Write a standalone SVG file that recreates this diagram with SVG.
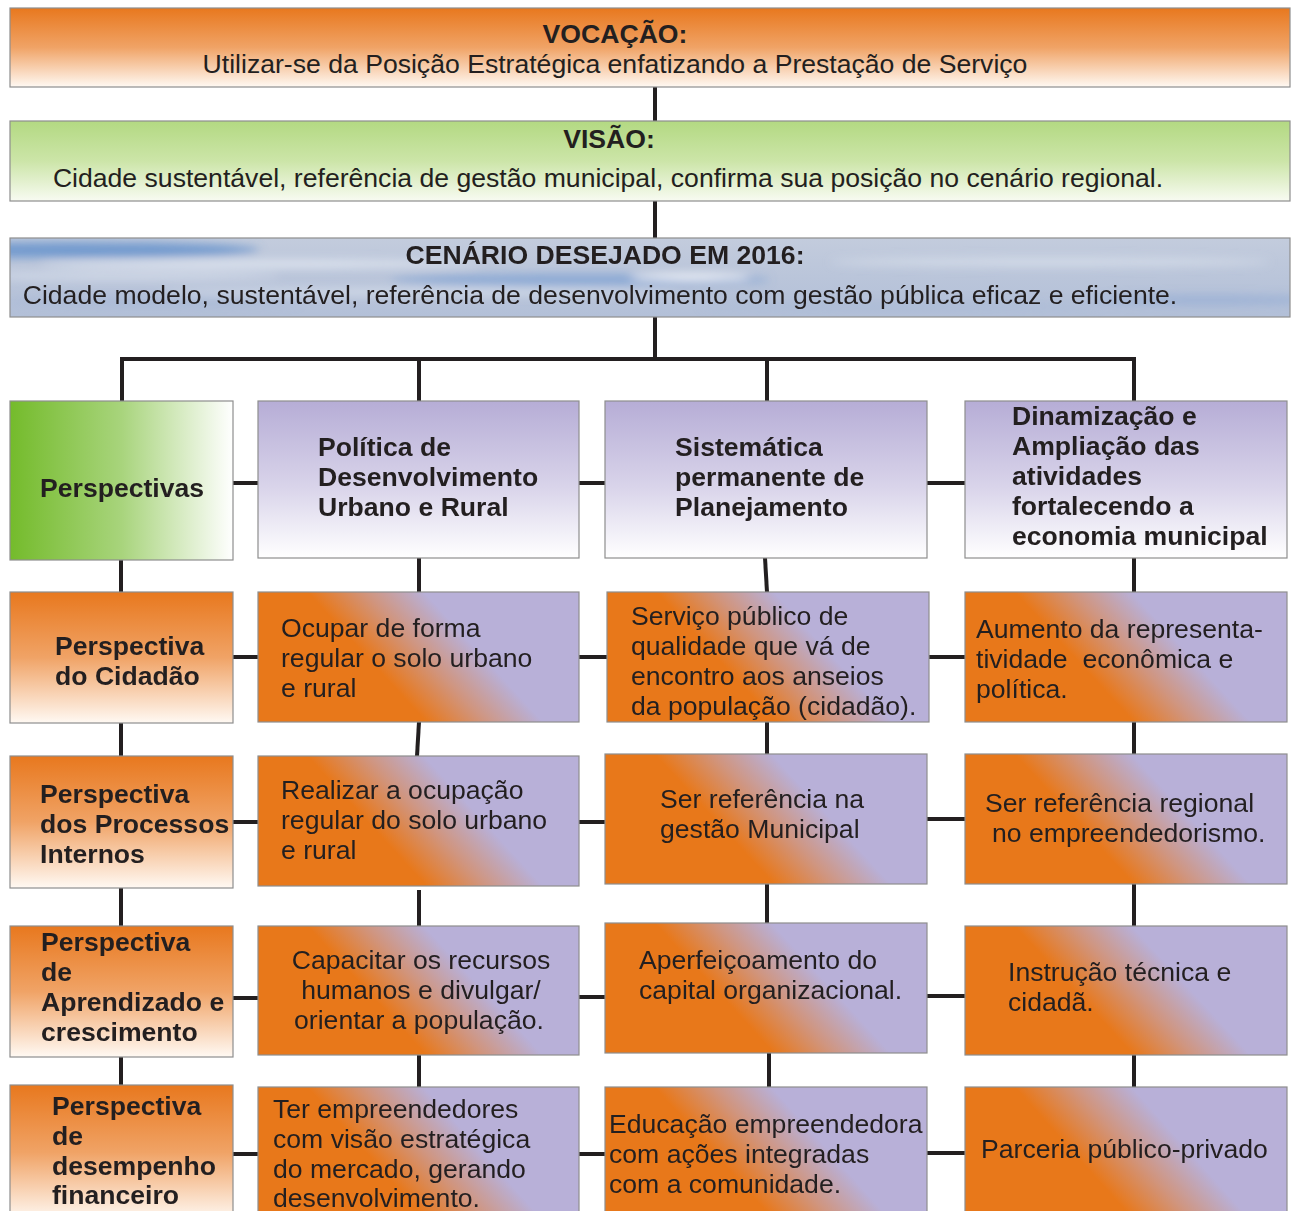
<svg xmlns="http://www.w3.org/2000/svg" width="1295" height="1211" viewBox="0 0 1295 1211">
<defs>
<style>
.t{font-family:"Liberation Sans",Arial,sans-serif;font-size:26.6px;fill:#231F20}
.b{font-weight:bold}
.c{text-anchor:middle}
.box{stroke:#8E8E8E;stroke-width:1.2}
.con{stroke:#231F20;stroke-width:4;fill:none}
</style>
<linearGradient id="gOrangeV" x1="0" y1="0" x2="0" y2="1">
<stop offset="0" stop-color="#E8781E"/>
<stop offset="0.5" stop-color="#F0A366"/>
<stop offset="1" stop-color="#FFF9F3"/>
</linearGradient>
<linearGradient id="gGreenV" x1="0" y1="0" x2="0" y2="1">
<stop offset="0" stop-color="#B3D982"/>
<stop offset="0.5" stop-color="#CCE5A8"/>
<stop offset="1" stop-color="#F8FBF2"/>
</linearGradient>
<linearGradient id="gGreenH" x1="0" y1="0" x2="1" y2="0">
<stop offset="0" stop-color="#74BB2B"/>
<stop offset="0.5" stop-color="#A8D47C"/>
<stop offset="1" stop-color="#FFFFFF"/>
</linearGradient>
<linearGradient id="gPurpleV" x1="0" y1="0" x2="0" y2="1">
<stop offset="0" stop-color="#B6ADD6"/>
<stop offset="0.55" stop-color="#D9D4EA"/>
<stop offset="1" stop-color="#FFFFFF"/>
</linearGradient>
<linearGradient id="gDiag" x1="0" y1="0.69" x2="1" y2="0.32">
<stop offset="0" stop-color="#E8781A"/>
<stop offset="0.36" stop-color="#E8781A"/>
<stop offset="0.52" stop-color="#D0957F"/>
<stop offset="0.68" stop-color="#B8B0D8"/>
<stop offset="1" stop-color="#B8B0D8"/>
</linearGradient>
<linearGradient id="gSky" x1="0" y1="0" x2="0" y2="1">
<stop offset="0" stop-color="#C3CCDD"/>
<stop offset="0.5" stop-color="#BAC5DA"/>
<stop offset="1" stop-color="#B3C0D8"/>
</linearGradient>
<filter id="blur" x="-50%" y="-50%" width="200%" height="200%">
<feGaussianBlur stdDeviation="5"/>
</filter>
<clipPath id="skyClip"><rect x="10" y="238" width="1280" height="79"/></clipPath>
</defs>

<g id="connectors">
<line class="con" x1="655" y1="87" x2="655" y2="121"/>
<line class="con" x1="655" y1="201" x2="655" y2="238"/>
<line class="con" x1="655" y1="317" x2="655" y2="359"/>
<line class="con" x1="120" y1="359" x2="1136" y2="359"/>
<line class="con" x1="122" y1="359" x2="122" y2="401"/>
<line class="con" x1="419" y1="359" x2="419" y2="401"/>
<line class="con" x1="767" y1="359" x2="767" y2="401"/>
<line class="con" x1="1134" y1="359" x2="1134" y2="401"/>
<line class="con" x1="233" y1="483" x2="258" y2="483"/>
<line class="con" x1="579" y1="483" x2="605" y2="483"/>
<line class="con" x1="927" y1="483" x2="965" y2="483"/>
<line class="con" x1="121" y1="560" x2="121" y2="592"/>
<line class="con" x1="419" y1="558" x2="419" y2="592"/>
<line class="con" x1="765" y1="558" x2="767" y2="592"/>
<line class="con" x1="1134" y1="558" x2="1134" y2="592"/>
<line class="con" x1="233" y1="657" x2="258" y2="657"/>
<line class="con" x1="579" y1="657" x2="607" y2="657"/>
<line class="con" x1="929" y1="657" x2="965" y2="657"/>
<line class="con" x1="121" y1="723" x2="121" y2="756"/>
<line class="con" x1="419" y1="722" x2="417" y2="756"/>
<line class="con" x1="767" y1="722" x2="767" y2="754"/>
<line class="con" x1="1134" y1="722" x2="1134" y2="754"/>
<line class="con" x1="233" y1="822" x2="258" y2="822"/>
<line class="con" x1="579" y1="822" x2="605" y2="822"/>
<line class="con" x1="927" y1="819" x2="965" y2="819"/>
<line class="con" x1="121" y1="888" x2="121" y2="926"/>
<line class="con" x1="419" y1="890" x2="419" y2="926"/>
<line class="con" x1="767" y1="884" x2="767" y2="923"/>
<line class="con" x1="1134" y1="884" x2="1134" y2="926"/>
<line class="con" x1="233" y1="998" x2="258" y2="998"/>
<line class="con" x1="579" y1="997" x2="605" y2="997"/>
<line class="con" x1="927" y1="996" x2="965" y2="996"/>
<line class="con" x1="121" y1="1057" x2="121" y2="1085"/>
<line class="con" x1="419" y1="1055" x2="419" y2="1087"/>
<line class="con" x1="769" y1="1053" x2="769" y2="1087"/>
<line class="con" x1="1134" y1="1055" x2="1134" y2="1087"/>
<line class="con" x1="233" y1="1154" x2="258" y2="1154"/>
<line class="con" x1="579" y1="1154" x2="605" y2="1154"/>
<line class="con" x1="927" y1="1153" x2="965" y2="1153"/>
</g>

<g id="vocacao">
<rect class="box" x="10" y="8" width="1280" height="79" fill="url(#gOrangeV)"/>
<text class="t b c" x="615" y="43">VOCAÇÃO:</text>
<text class="t c" x="615" y="73">Utilizar-se da Posição Estratégica enfatizando a Prestação de Serviço</text>
</g>

<g id="visao">
<rect class="box" x="10" y="121" width="1280" height="80" fill="url(#gGreenV)"/>
<text class="t b c" x="609" y="148">VISÃO:</text>
<text class="t c" x="608" y="187">Cidade sustentável, referência de gestão municipal, confirma sua posição no cenário regional.</text>
</g>

<g id="cenario">
<rect x="10" y="238" width="1280" height="79" fill="url(#gSky)"/>
<g clip-path="url(#skyClip)">
<g filter="url(#blur)">
<ellipse cx="70" cy="250" rx="190" ry="8" fill="#5F8DCB" opacity="0.8"/>
<ellipse cx="260" cy="264" rx="220" ry="4" fill="#E8EDF5" opacity="0.75"/>
<ellipse cx="120" cy="276" rx="160" ry="5" fill="#D5DDEA" opacity="0.7"/>
<ellipse cx="580" cy="280" rx="190" ry="6" fill="#7BA0D3" opacity="0.75"/>
<ellipse cx="690" cy="277" rx="60" ry="3" fill="#FFFFFF" opacity="0.95"/>
<ellipse cx="420" cy="292" rx="260" ry="4" fill="#E1E7F1" opacity="0.6"/>
<ellipse cx="1050" cy="262" rx="220" ry="5" fill="#DDE4EF" opacity="0.6"/>
<ellipse cx="1210" cy="300" rx="120" ry="5" fill="#8EA9D3" opacity="0.6"/>
<ellipse cx="900" cy="306" rx="200" ry="4" fill="#A5B7D6" opacity="0.6"/>
<ellipse cx="150" cy="302" rx="150" ry="5" fill="#9FB3D6" opacity="0.5"/>
</g>
</g>
<rect class="box" x="10" y="238" width="1280" height="79" fill="none"/>
<text class="t b c" x="605" y="264">CENÁRIO DESEJADO EM 2016:</text>
<text class="t c" x="600" y="304">Cidade modelo, sustentável, referência de desenvolvimento com gestão pública eficaz e eficiente.</text>
</g>

<g id="perspectivas">
<rect class="box" x="10" y="401" width="223" height="159" fill="url(#gGreenH)"/>
<text class="t b" x="40" y="497">Perspectivas</text>
</g>
<g id="politica">
<rect class="box" x="258" y="401" width="321" height="157" fill="url(#gPurpleV)"/>
<text class="t b" x="318" y="456">Política de</text>
<text class="t b" x="318" y="486">Desenvolvimento</text>
<text class="t b" x="318" y="516">Urbano e Rural</text>
</g>
<g id="sistematica">
<rect class="box" x="605" y="401" width="322" height="157" fill="url(#gPurpleV)"/>
<text class="t b" x="675" y="456">Sistemática</text>
<text class="t b" x="675" y="486">permanente de</text>
<text class="t b" x="675" y="516">Planejamento</text>
</g>
<g id="dinamizacao">
<rect class="box" x="965" y="401" width="322" height="157" fill="url(#gPurpleV)"/>
<text class="t b" x="1012" y="425">Dinamização e</text>
<text class="t b" x="1012" y="455">Ampliação das</text>
<text class="t b" x="1012" y="485">atividades</text>
<text class="t b" x="1012" y="515">fortalecendo a</text>
<text class="t b" x="1012" y="545">economia municipal</text>
</g>

<g id="p-cidadao">
<rect class="box" x="10" y="592" width="223" height="131" fill="url(#gOrangeV)"/>
<text class="t b" x="55" y="655">Perspectiva</text>
<text class="t b" x="55" y="685">do Cidadão</text>
</g>
<g id="ocupar">
<rect class="box" x="258" y="592" width="321" height="130" fill="url(#gDiag)"/>
<text class="t" x="281" y="637">Ocupar de forma</text>
<text class="t" x="281" y="667">regular o solo urbano</text>
<text class="t" x="281" y="697">e rural</text>
</g>
<g id="servico">
<rect class="box" x="607" y="592" width="322" height="130" fill="url(#gDiag)"/>
<text class="t" x="631" y="625">Serviço público de</text>
<text class="t" x="631" y="655">qualidade que vá de</text>
<text class="t" x="631" y="685">encontro aos anseios</text>
<text class="t" x="631" y="715">da população (cidadão).</text>
</g>
<g id="aumento">
<rect class="box" x="965" y="592" width="322" height="130" fill="url(#gDiag)"/>
<text class="t" x="976" y="638">Aumento da representa-</text>
<text class="t" x="976" y="668" xml:space="preserve">tividade  econômica e</text>
<text class="t" x="976" y="698">política.</text>
</g>

<g id="p-processos">
<rect class="box" x="10" y="756" width="223" height="132" fill="url(#gOrangeV)"/>
<text class="t b" x="40" y="803">Perspectiva</text>
<text class="t b" x="40" y="833">dos Processos</text>
<text class="t b" x="40" y="863">Internos</text>
</g>
<g id="realizar">
<rect class="box" x="258" y="756" width="321" height="130" fill="url(#gDiag)"/>
<text class="t" x="281" y="799">Realizar a ocupação</text>
<text class="t" x="281" y="829">regular do solo urbano</text>
<text class="t" x="281" y="859">e rural</text>
</g>
<g id="ref-gestao">
<rect class="box" x="605" y="754" width="322" height="130" fill="url(#gDiag)"/>
<text class="t" x="660" y="808">Ser referência na</text>
<text class="t" x="660" y="838">gestão Municipal</text>
</g>
<g id="ref-regional">
<rect class="box" x="965" y="754" width="322" height="130" fill="url(#gDiag)"/>
<text class="t" x="985" y="812">Ser referência regional</text>
<text class="t" x="992" y="842">no empreendedorismo.</text>
</g>

<g id="p-aprendizado">
<rect class="box" x="10" y="926" width="223" height="131" fill="url(#gOrangeV)"/>
<text class="t b" x="41" y="951">Perspectiva</text>
<text class="t b" x="41" y="981">de</text>
<text class="t b" x="41" y="1011">Aprendizado e</text>
<text class="t b" x="41" y="1041">crescimento</text>
</g>
<g id="capacitar">
<rect class="box" x="258" y="926" width="321" height="129" fill="url(#gDiag)"/>
<text class="t c" x="421" y="969">Capacitar os recursos</text>
<text class="t c" x="421" y="999">humanos e divulgar/</text>
<text class="t c" x="419" y="1029">orientar a população.</text>
</g>
<g id="aperfeicoamento">
<rect class="box" x="605" y="923" width="322" height="130" fill="url(#gDiag)"/>
<text class="t" x="639" y="969">Aperfeiçoamento do</text>
<text class="t" x="639" y="999">capital organizacional.</text>
</g>
<g id="instrucao">
<rect class="box" x="965" y="926" width="322" height="129" fill="url(#gDiag)"/>
<text class="t" x="1008" y="981">Instrução técnica e</text>
<text class="t" x="1008" y="1011">cidadã.</text>
</g>

<g id="p-financeiro">
<rect class="box" x="10" y="1085" width="223" height="135" fill="url(#gOrangeV)"/>
<text class="t b" x="52" y="1115">Perspectiva</text>
<text class="t b" x="52" y="1145">de</text>
<text class="t b" x="52" y="1175">desempenho</text>
<text class="t b" x="52" y="1204">financeiro</text>
</g>
<g id="empreendedores">
<rect class="box" x="258" y="1087" width="321" height="133" fill="url(#gDiag)"/>
<text class="t" x="273" y="1118">Ter empreendedores</text>
<text class="t" x="273" y="1148">com visão estratégica</text>
<text class="t" x="273" y="1178">do mercado, gerando</text>
<text class="t" x="273" y="1207">desenvolvimento.</text>
</g>
<g id="educacao">
<rect class="box" x="605" y="1087" width="322" height="133" fill="url(#gDiag)"/>
<text class="t" x="609" y="1133">Educação empreendedora</text>
<text class="t" x="609" y="1163">com ações integradas</text>
<text class="t" x="609" y="1193">com a comunidade.</text>
</g>
<g id="parceria">
<rect class="box" x="965" y="1087" width="322" height="133" fill="url(#gDiag)"/>
<text class="t" x="981" y="1158">Parceria público-privado</text>
</g>
</svg>
